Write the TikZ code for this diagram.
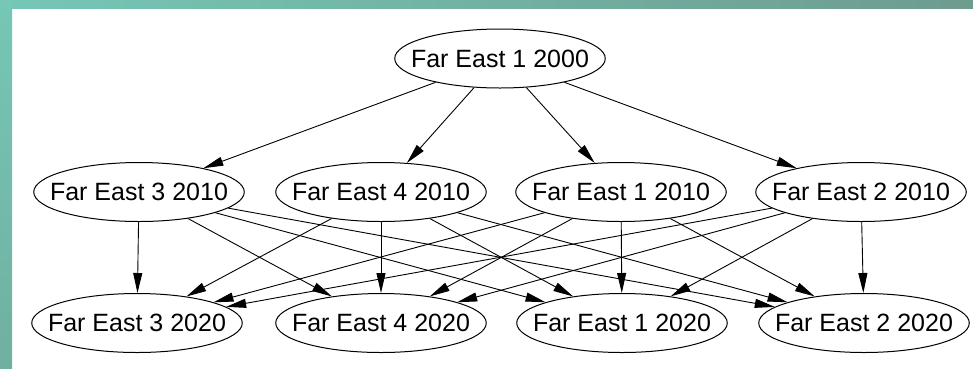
\documentclass[tikz,border=0pt]{standalone}
\usepackage{fontspec}
\setmainfont{Liberation Sans}
\usetikzlibrary{arrows.meta, positioning, shapes.geometric}

\definecolor{bandleft}{RGB}{118,199,182}
\definecolor{bandright}{RGB}{110,156,143}
\definecolor{stripbottom}{RGB}{112,176,160}

\begin{document}
\begin{tikzpicture}[
  every node/.style={font=\fontsize{25}{30}\selectfont, align=center},
  ellip/.style={draw, ellipse, line width=1pt, inner xsep=-14.5pt, inner ysep=0pt,
    minimum width=210pt, minimum height=59pt},
  ->, >={Triangle[length=20pt, width=9pt]}, line width=0.9pt,
  on grid, node distance=131pt and 240pt
]

% Frame
\useasboundingbox (0,0) rectangle (973pt,-368pt);
\fill[white] (0,0) rectangle (973pt,-368pt);
\shade[left color=bandleft, right color=bandright] (0,0) rectangle (973pt,-8pt);
\shade[top color=bandleft, bottom color=stripbottom] (0,0) rectangle (12pt,-368pt);

% Nodes
\node[ellip] (fe1_2000) at (500pt,-58.5pt) {Far East 1 2000};
\node[ellip, below left=133.5pt and 361pt of fe1_2000] (fe3_2010) {Far East 3 2010};
\node[ellip, right=242pt of fe3_2010] (fe4_2010) {Far East 4 2010};
\node[ellip, right=of fe4_2010] (fe1_2010) {Far East 1 2010};
\node[ellip, right=of fe1_2010] (fe2_2010) {Far East 2 2010};
\node[ellip, below=of fe3_2010, xshift=-2pt] (fe3_2020) {Far East 3 2020};
\node[ellip, below=of fe4_2010] (fe4_2020) {Far East 4 2020};
\node[ellip, below=of fe1_2010, xshift=1pt] (fe1_2020) {Far East 1 2020};
\node[ellip, below=of fe2_2010, xshift=3pt] (fe2_2020) {Far East 2 2020};

% Edges
\foreach \t in {fe3_2010, fe4_2010, fe1_2010, fe2_2010}
  \draw (fe1_2000) -- (\t);
\foreach \s in {fe3_2010, fe4_2010, fe1_2010, fe2_2010}
  \foreach \t in {fe3_2020, fe4_2020, fe1_2020, fe2_2020}
    \draw (\s) -- (\t);

\end{tikzpicture}
\end{document}
